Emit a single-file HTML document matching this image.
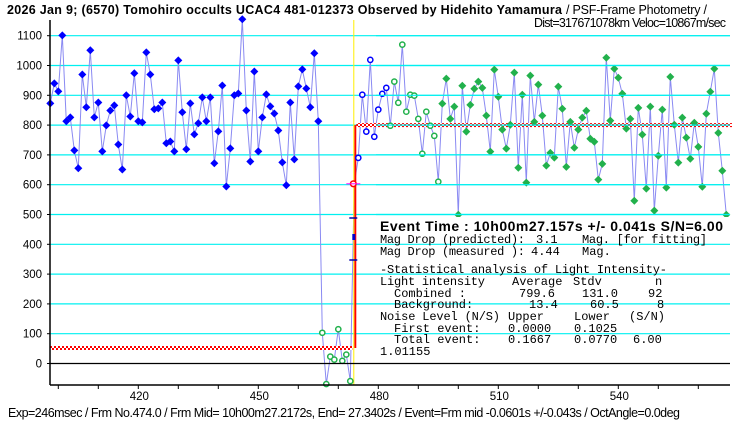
<!DOCTYPE html>
<html><head><meta charset="utf-8"><style>
html,body{margin:0;padding:0;background:#fff;}
svg{display:block;}
text{font-family:"Liberation Sans",sans-serif;}
.mono{font-family:"Liberation Mono","Liberation Sans",monospace;font-size:12px;}
</style></head><body>
<svg id="chart" width="740" height="425" viewBox="0 0 740 425" xmlns="http://www.w3.org/2000/svg">
<defs>
<pattern id="chk" width="4" height="4" patternUnits="userSpaceOnUse">
<rect width="4" height="4" fill="#fff"/><rect width="2" height="2" fill="#f00"/><rect x="2" y="2" width="2" height="2" fill="#f00"/>
</pattern>
</defs>
<text x="7" y="14" font-size="12.5" font-weight="bold" textLength="555">2026 Jan 9; (6570) Tomohiro occults UCAC4 481-012373 Observed by Hidehito Yamamura</text>
<text x="566" y="14" font-size="12.5" textLength="141">/ PSF-Frame Photometry /</text>
<text x="534" y="27" font-size="12.5" textLength="192">Dist=317671078km Veloc=10867m/sec</text>
<g id="grid"></g>
<g id="series"></g>
<g id="overlay"></g>
<g id="axes"></g>
<text x="8" y="417" font-size="12.5" textLength="672">Exp=246msec / Frm No.474.0 / Frm Mid= 10h00m27.2172s,  End= 27.3402s / Event=Frm mid -0.0601s +/-0.043s / OctAngle=0.0deg</text>
</svg>
<script>
const firstFrame = 398;
const intensity = [873,940,913,1101,813,826,715,655,970,860,1051,826,876,712,799,849,866,735,651,900,829,974,813,809,1044,970,853,856,876,739,745,712,1017,843,719,873,769,806,893,813,893,672,779,
933,594,722,900,906,1155,849,678,980,712,826,903,863,839,782,675,598,876,685,930,987,923,860,1041,813,
103,-69,23,13,115,9,30,-59,
603,690,902,778,1019,761,852,905,925,
798,946,875,1070,845,902,899,821,704,845,798,764,610,
872,956,821,862,499,932,778,868,922,946,925,832,711,986,895,785,721,801,976,657,902,607,966,811,936,832,664,707,
691,929,855,660,811,724,785,825,848,754,744,617,670,1026,815,989,959,905,788,821,546,858,768,587,862,513,697,852,590,962,801,674,825,758,687,808,727,593,838,912,989,774,647,499];
const yTicks = [0,100,200,300,400,500,600,700,800,900,1000,1100];
const xTickLabels = [420,450,480,510,540];
const xMinorTicks = [400,410,420,430,440,450,460,470,480,490,500,510,520,530,540,550,560];
const modelLevels = [52,800];
const eventFrame = 474;
const eventIntensity = 603;

const NS = "http://www.w3.org/2000/svg";
function X(f){return 138.3+(f-420)*4;}
function Y(v){return 363.5-v*0.298;}
function mk(tag, attrs, parent){const e=document.createElementNS(NS,tag);for(const k in attrs)e.setAttribute(k,attrs[k]);parent.appendChild(e);return e;}
const grid=document.getElementById('grid'), series=document.getElementById('series'), overlay=document.getElementById('overlay'), axes=document.getElementById('axes');
const L=50, R=730, T=20, B=385;
const GC='#00f0f0';

let pts=intensity.map((v,i)=>X(firstFrame+i).toFixed(1)+','+Y(v).toFixed(1)).join(' ');
const pl=mk('polyline',{points:pts,fill:'none',stroke:'#8a8af2','stroke-width':1},series);



const lowEnd=X(eventFrame)-2, hiStart=X(eventFrame)+2;
const m1=mk('rect',{x:L,y:Y(modelLevels[0])-2,width:lowEnd-L,height:4,fill:'url(#chk)'},series);


const m2=mk('rect',{x:hiStart,y:Y(modelLevels[1])-2,width:R+2-hiStart,height:4,fill:'url(#chk)'},series);


const m3=mk('line',{x1:X(eventFrame)+1,x2:X(eventFrame)+1,y1:Y(modelLevels[0]),y2:Y(modelLevels[1]),stroke:'#f00','stroke-width':2},series);


const ev=mk('line',{x1:X(eventFrame)-0.5,x2:X(eventFrame)-0.5,y1:T,y2:B,stroke:'#ffee00','stroke-width':1},series);



intensity.forEach((v,i)=>{
  const cx=X(firstFrame+i), cy=Y(v);
  let el;
  if(i<68){el=mk('path',{d:`M${cx},${cy-4}L${cx+4},${cy}L${cx},${cy+4}L${cx-4},${cy}Z`,fill:'#0000ff'},series);}
  else if(i<76){el=mk('circle',{cx:cx,cy:cy,r:2.6,fill:'#fff',stroke:'#22b14c','stroke-width':1.5},series);}
  else if(i===76){el=mk('circle',{cx:cx-1,cy:cy,r:2.8,fill:'#fff',stroke:'#f00','stroke-width':1.5},series);}
  else if(i<85){el=mk('circle',{cx:cx,cy:cy,r:2.6,fill:'#fff',stroke:'#0000ff','stroke-width':1.5},series);}
  else if(i<98){el=mk('circle',{cx:cx,cy:cy,r:2.6,fill:'#fff',stroke:'#22b14c','stroke-width':1.5},series);}
  else {el=mk('path',{d:`M${cx},${cy-4}L${cx+4},${cy}L${cx},${cy+4}L${cx-4},${cy}Z`,fill:'#22b14c'},series);}
  
  
});
const ex=X(eventFrame)-1;
const mg=mk('line',{x1:ex-7,x2:ex+7,y1:Y(eventIntensity),y2:Y(eventIntensity),stroke:'#ff00ff','stroke-width':1},overlay);


[218,260].forEach(y=>{const t=mk('line',{x1:ex-4,x2:ex+4,y1:y,y2:y,stroke:'#0000aa','stroke-width':1.5},overlay);

});
const bm=mk('rect',{x:ex-1,y:234,width:3,height:6,fill:'#0000cc'},overlay);



const box=mk('rect',{x:376,y:217,width:356,height:144,fill:'#fff'},overlay);



yTicks.forEach(v=>{ if(v===0) return;
  const g=mk('line',{x1:L,x2:R,y1:Y(v),y2:Y(v),stroke:GC,'stroke-width':1.2},grid);
  
  
  const g2=mk('line',{x1:376,x2:R,y1:Y(v),y2:Y(v),stroke:GC,'stroke-width':1.2},overlay);
  
  
});
const lines=[
 [[380,231,'Event Time : 10h00m27.157s  +/- 0.041s  S/N=6.00',343,true]],
 [[380,243,'Mag Drop (predicted):',145],[536,243,'3.1'],[582,243,'Mag. [for fitting]',125]],
 [[380,255,'Mag Drop (measured ):',145],[531,255,'4.44'],[582,255,'Mag.']],
 [[380,273,'-Statistical analysis of Light Intensity-',287]],
 [[380,285,'Light intensity',105],[512,285,'Average'],[573,285,'Stdv'],[655,285,'n']],
 [[394,297,'Combined  :'],[519,297,'799.6'],[582,297,'131.0'],[648,297,'92']],
 [[394,308,'Background:'],[529,308,'13.4'],[590,308,'60.5'],[657,308,'8']],
 [[380,320,'Noise Level (N/S)',120],[508,320,'Upper'],[574,320,'Lower'],[629,320,'(S/N)']],
 [[394,332,'First event:'],[508,332,'0.0000'],[574,332,'0.1025']],
 [[394,343,'Total event:'],[508,343,'0.1667'],[574,343,'0.0770'],[633,343,'6.00']],
 [[380,355,'1.01155']]
];
lines.forEach(row=>row.forEach(c=>{
  const t=mk('text',{x:c[0],y:c[1]},overlay);
  if(c[4]){t.setAttribute('font-size','14');t.setAttribute('font-weight','bold');}
  else {t.setAttribute('class','mono');}
  if(c[3]) t.setAttribute('textLength',c[3]);
  t.setAttribute('xml:space','preserve');
  t.textContent=c[2];
  
  
}));

const zl=mk('line',{x1:L,x2:R,y1:Y(0),y2:Y(0),stroke:'#000','stroke-width':1.2},axes);


const ya=mk('line',{x1:L,x2:L,y1:T,y2:B,stroke:'#000','stroke-width':1.5},axes);


const xa=mk('line',{x1:L,x2:R,y1:B,y2:B,stroke:'#000','stroke-width':1.5},axes);


yTicks.forEach(v=>{
  const t=mk('line',{x1:L-3,x2:L,y1:Y(v),y2:Y(v),stroke:'#000'},axes);
  
  
  const l=mk('text',{x:42,y:Y(v)+4,'font-size':11.5,'text-anchor':'end'},axes);
  l.textContent=v;
  
  
});
xMinorTicks.forEach(f=>{
  const t=mk('line',{x1:X(f),x2:X(f),y1:B,y2:B+4,stroke:'#000'},axes);
  
  
});
xTickLabels.forEach(f=>{
  const l=mk('text',{x:X(f)+1,y:400,'font-size':11.5,'text-anchor':'middle'},axes);
  l.textContent=f;
  
  
});
</script>
</body></html>
